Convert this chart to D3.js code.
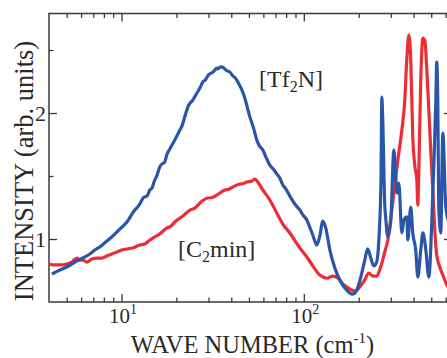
<!DOCTYPE html>
<html>
<head>
<meta charset="utf-8">
<script src="https://cdn.jsdelivr.net/npm/d3@7"></script>
<style>
  html, body { margin: 0; padding: 0; background: #fff; }
  svg { display: block; }
  text { font-family: "Liberation Serif", "Times New Roman", serif; fill: #2a2a2a; }
</style>
</head>
<body>
<svg id="chart" width="447" height="358"></svg>
<script>
// Low-frequency Raman / THz spectra of two ionic-liquid components
const tf2nWave = [4.15, 4.59, 5.01, 5.54, 6.13, 6.70, 7.14, 7.60, 8.31, 8.96, 9.79, 10.7, 11.0, 11.5, 11.9, 12.2, 12.6, 13.2, 13.8, 14.3, 14.7, 15.2, 15.6, 16.2, 16.8, 17.2, 17.7, 18.5, 19.6, 20.9, 21.5, 22.2, 23.3, 24.6, 25.7, 26.9, 27.9, 28.8, 29.7, 30.5, 31.7, 32.5, 33.3, 33.9, 34.6, 35.6, 36.9, 38.0, 39.3, 40.8, 42.0, 43.5, 46.9, 50.6, 53.0, 55.2, 57.0, 59.6, 62.0, 65.1, 68.0, 71.1, 74.0, 76.7, 79.5, 83.8, 89.0, 95.1, 99.0, 103.9, 108, 112, 117.8, 122.4, 127.1, 132, 138.9, 148, 157.6, 168, 178.8, 185.7, 195.3, 208, 216, 224, 233, 242, 251, 258, 265, 268, 271, 278, 282, 289, 300, 312, 324, 332, 345, 354, 367, 372, 386, 396, 411, 422, 438, 450, 467, 485, 504, 517, 530, 536, 543, 550, 564, 579, 601, 632];
const tf2nInt  = [0.722, 0.754, 0.778, 0.817, 0.849, 0.881, 0.913, 0.937, 0.984, 1.024, 1.079, 1.135, 1.160, 1.206, 1.235, 1.250, 1.278, 1.330, 1.341, 1.389, 1.405, 1.468, 1.500, 1.571, 1.600, 1.607, 1.667, 1.720, 1.786, 1.865, 1.900, 1.968, 2.060, 2.103, 2.150, 2.198, 2.246, 2.262, 2.294, 2.310, 2.325, 2.342, 2.357, 2.350, 2.365, 2.366, 2.349, 2.335, 2.325, 2.294, 2.280, 2.246, 2.143, 1.968, 1.880, 1.786, 1.740, 1.706, 1.650, 1.587, 1.555, 1.516, 1.480, 1.429, 1.400, 1.341, 1.280, 1.230, 1.190, 1.151, 1.090, 1.032, 0.952, 1.024, 1.143, 1.087, 0.913, 0.770, 0.675, 0.611, 0.571, 0.563, 0.595, 0.730, 0.833, 0.921, 0.849, 0.786, 0.817, 0.992, 1.468, 2.127, 1.944, 1.270, 1.151, 1.016, 1.151, 1.706, 1.365, 1.444, 1.048, 1.151, 1.175, 0.992, 1.254, 1.048, 0.913, 0.698, 0.913, 1.048, 0.913, 0.698, 1.151, 1.603, 2.103, 2.405, 2.103, 1.254, 1.048, 1.841, 1.254, 1.111];

const c2minWave = [3.99, 4.31, 4.70, 5.01, 5.34, 5.69, 5.91, 6.13, 6.45, 6.87, 7.32, 7.80, 8.31, 8.85, 9.42, 10.04, 10.7, 11.5, 12.6, 13.4, 14.3, 15.2, 16.2, 17.7, 18.6, 19.6, 21.7, 23.7, 25.2, 26.9, 29.7, 31.5, 33.3, 36.9, 38.8, 40.8, 44.6, 46.5, 48.7, 51.9, 53.9, 55.9, 59.6, 65.1, 71.1, 76.7, 83.8, 95.1, 103.9, 112, 122.4, 133.7, 144.2, 153.7, 163.7, 178.8, 190.5, 202.9, 216, 227, 239, 251, 265, 278, 289, 304, 316, 328, 345, 358, 367, 377, 386, 396, 406, 417, 422, 427, 438, 450, 461, 473, 485, 497, 510, 523, 536, 557, 579, 609, 632];
const c2minInt  = [0.802, 0.794, 0.794, 0.802, 0.817, 0.849, 0.833, 0.833, 0.817, 0.841, 0.849, 0.849, 0.865, 0.881, 0.897, 0.913, 0.921, 0.929, 0.952, 0.960, 0.992, 1.016, 1.040, 1.087, 1.100, 1.135, 1.183, 1.230, 1.245, 1.286, 1.325, 1.330, 1.349, 1.389, 1.395, 1.413, 1.437, 1.440, 1.452, 1.460, 1.476, 1.452, 1.389, 1.310, 1.206, 1.119, 1.048, 0.929, 0.857, 0.786, 0.714, 0.690, 0.706, 0.690, 0.643, 0.603, 0.587, 0.619, 0.675, 0.730, 0.706, 0.706, 0.786, 0.897, 0.992, 1.230, 1.429, 1.627, 1.865, 2.103, 2.421, 2.619, 2.421, 1.810, 1.587, 1.468, 1.270, 1.508, 2.262, 2.595, 2.579, 2.341, 2.024, 1.706, 1.389, 1.071, 0.873, 0.778, 0.714, 0.635, 0.595];

const xMajorTicks = [10, 100];
const xMinorTicks = [5, 6, 7, 8, 9, 20, 30, 40, 50, 60, 70, 80, 90, 200, 300, 400, 500, 600];
const xTickExponents = ["1", "2"];
const yMajorTicks = [1, 2];
const yMinorTicks = [1.5, 2.5];
const seriesLabels = ["[Tf", "N]", "[C", "min]"];

const svg = d3.select("#chart");
const plotLeft = 49, plotRight = 452, plotTop = 13.5, plotBottom = 302;

const x = d3.scaleLog().domain([4, 650]).range([plotLeft, plotRight]);
const y = d3.scaleLinear().domain([0.5, 2.79]).range([plotBottom, plotTop]);

const axisColor = "#3a3a3a";

// clip for the data curves
svg.append("defs").append("clipPath").attr("id", "plotClip")
  .append("rect").attr("x", plotLeft).attr("y", plotTop)
  .attr("width", plotRight - plotLeft).attr("height", plotBottom - plotTop);

function styleAxis(g) {
  g.select(".domain").remove();
  g.selectAll("line").attr("stroke", axisColor).attr("stroke-width", 1.3);
  g.selectAll("text").remove();
}

// x axes (bottom and top), ticks pointing inward
[[d3.axisBottom, plotBottom], [d3.axisTop, plotTop]].forEach(([ax, pos]) => {
  svg.append("g").attr("transform", `translate(0,${pos})`)
    .call(ax(x).tickValues(xMajorTicks).tickSize(-8).tickFormat(""))
    .call(styleAxis);
  svg.append("g").attr("transform", `translate(0,${pos})`)
    .call(ax(x).tickValues(xMinorTicks).tickSize(-4.5).tickFormat(""))
    .call(styleAxis);
});

// y axes (left and right)
[[d3.axisLeft, plotLeft], [d3.axisRight, plotRight]].forEach(([ax, pos]) => {
  svg.append("g").attr("transform", `translate(${pos},0)`)
    .call(ax(y).tickValues(yMajorTicks).tickSize(-8).tickFormat(""))
    .call(styleAxis);
  svg.append("g").attr("transform", `translate(${pos},0)`)
    .call(ax(y).tickValues(yMinorTicks).tickSize(-4.5).tickFormat(""))
    .call(styleAxis);
});

// frame
svg.append("rect").attr("x", plotLeft).attr("y", plotTop)
  .attr("width", plotRight - plotLeft).attr("height", plotBottom - plotTop)
  .attr("fill", "none").attr("stroke", axisColor).attr("stroke-width", 1.5);

// y tick labels
svg.selectAll(".ylab").data(yMajorTicks).enter().append("text")
  .attr("x", plotLeft - 3).attr("y", d => y(d)).attr("dy", "0.35em")
  .attr("text-anchor", "end").attr("font-size", 22)
  .text(d => d);

// x tick labels: 10 with superscript exponent
xMajorTicks.forEach((v, i) => {
  const t = svg.append("text").attr("x", x(v) + 1.5).attr("y", 323)
    .attr("text-anchor", "middle").attr("font-size", 21);
  t.append("tspan").text("10");
  t.append("tspan").attr("font-size", 14).attr("dy", -9).text(xTickExponents[i]);
});

// axis titles
const xt = svg.append("text").attr("x", (128 + 377) / 2).attr("y", 353)
  .attr("text-anchor", "middle").attr("font-size", 24.5);
xt.append("tspan").text("WAVE NUMBER (cm");
xt.append("tspan").attr("font-size", 15).attr("dy", -10).text("-1");
xt.append("tspan").attr("dy", 10).text(")");

svg.append("text")
  .attr("transform", `translate(33,171) rotate(-90)`)
  .attr("text-anchor", "middle").attr("font-size", 26.5)
  .text("INTENSITY (arb. units)");

// spectra
const line = d3.line().x(d => x(d[0])).y(d => y(d[1])).curve(d3.curveMonotoneX);
const c2min = c2minWave.map((w, i) => [w, c2minInt[i]]);
const tf2n = tf2nWave.map((w, i) => [w, tf2nInt[i]]);

const plot = svg.append("g").attr("clip-path", "url(#plotClip)");
plot.append("path").datum(c2min).attr("d", line)
  .attr("fill", "none").attr("stroke", "#ec2d36").attr("stroke-width", 3.2).attr("stroke-linejoin", "round");
plot.append("path").datum(tf2n).attr("d", line)
  .attr("fill", "none").attr("stroke", "#2b56a8").attr("stroke-width", 3.2).attr("stroke-linejoin", "round");

// series labels with subscript 2
function seriesLabel(px, py, a, b) {
  const t = svg.append("text").attr("x", px).attr("y", py).attr("font-size", 24);
  t.append("tspan").text(a);
  t.append("tspan").attr("font-size", 16).attr("dy", 5).text("2");
  t.append("tspan").attr("dy", -5).text(b);
}
seriesLabel(259, 87, seriesLabels[0], seriesLabels[1]);
seriesLabel(178, 257, seriesLabels[2], seriesLabels[3]);
</script>
</body>
</html>
